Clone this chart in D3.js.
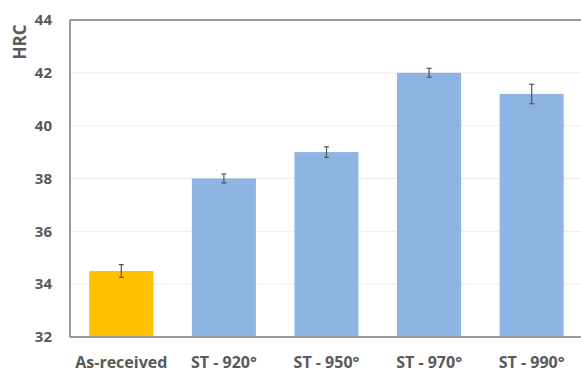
<!DOCTYPE html>
<html>
<head>
<meta charset="utf-8">
<script src="https://cdn.jsdelivr.net/npm/d3@7"></script>
<style>
  html, body { margin: 0; padding: 0; background: #fff; }
  svg { display: block; }
  text { font-family: "Open Sans", sans-serif; font-weight: 700; fill: #595959; }
</style>
</head>
<body>
<script>
// Hardness by heat-treatment condition
const categories = ["As-received", "ST - 920°", "ST - 950°", "ST - 970°", "ST - 990°"];
const hardness = [34.5, 38.0, 39.0, 42.0, 41.2];
const hardnessErr = [0.24, 0.17, 0.2, 0.17, 0.37];
const barColors = ["#FFC000", "#8EB4E3", "#8EB4E3", "#8EB4E3", "#8EB4E3"];
const yTicks = [32, 34, 36, 38, 40, 42, 44];
const yLabel = "HRC";

const W = 581, H = 372;
const margin = { left: 70, right: -2, top: 20, bottom: 35 };

const svg = d3.select("body").append("svg").attr("width", W).attr("height", H);

const x = d3.scaleBand()
  .domain(categories)
  .range([margin.left, W - margin.right])
  .paddingInner(0.376)
  .paddingOuter(0.188);

const y = d3.scaleLinear()
  .domain([32, 44])
  .range([H - margin.bottom, margin.top]);

// light horizontal gridlines
svg.append("g")
  .selectAll("line")
  .data(yTicks.filter(t => t > 32 && t < 44))
  .join("line")
  .attr("x1", margin.left).attr("x2", W)
  .attr("y1", d => y(d)).attr("y2", d => y(d))
  .attr("stroke", "#ececec").attr("stroke-width", 1);

// bars
svg.append("g")
  .selectAll("rect")
  .data(categories)
  .join("rect")
  .attr("x", d => x(d))
  .attr("width", x.bandwidth())
  .attr("y", (d, i) => y(hardness[i]))
  .attr("height", (d, i) => y(32) - y(hardness[i]))
  .attr("fill", (d, i) => barColors[i]);

// error bars
const eb = svg.append("g").attr("stroke", "#555").attr("stroke-width", 1.2);
categories.forEach((c, i) => {
  const cx = x(c) + x.bandwidth() / 2;
  const lo = y(hardness[i] - hardnessErr[i]);
  const hi = y(hardness[i] + hardnessErr[i]);
  eb.append("line").attr("x1", cx).attr("x2", cx).attr("y1", lo).attr("y2", hi);
  eb.append("line").attr("x1", cx - 2.5).attr("x2", cx + 2.5).attr("y1", lo).attr("y2", lo);
  eb.append("line").attr("x1", cx - 2.5).attr("x2", cx + 2.5).attr("y1", hi).attr("y2", hi);
});

// frame: left, top, bottom
const frame = svg.append("g").attr("stroke", "#999").attr("stroke-width", 2).attr("fill", "none");
frame.append("line").attr("x1", margin.left).attr("x2", margin.left).attr("y1", y(44)).attr("y2", y(32));
frame.append("line").attr("x1", margin.left).attr("x2", W).attr("y1", y(44)).attr("y2", y(44));
frame.append("line").attr("x1", margin.left).attr("x2", W).attr("y1", y(32)).attr("y2", y(32));

// y axis labels
const yAxis = d3.axisLeft(y).tickValues(yTicks).tickSize(0).tickPadding(18);
const gy = svg.append("g").attr("transform", `translate(${margin.left},0)`).call(yAxis);
gy.select(".domain").remove();
gy.selectAll("text").attr("font-size", 15).attr("font-family", "Open Sans").attr("font-weight", 700).attr("fill", "#595959");

// x axis labels
const xAxis = d3.axisBottom(x).tickSize(0).tickPadding(19.5);
const gx = svg.append("g").attr("transform", `translate(0,${y(32)})`).call(xAxis);
gx.select(".domain").remove();
gx.selectAll("text").attr("font-size", 16).attr("font-family", "Open Sans").attr("font-weight", 700).attr("fill", "#595959");

// y axis title
svg.append("text")
  .attr("transform", `translate(26,42) rotate(-90)`)
  .attr("text-anchor", "middle")
  .attr("font-size", 17)
  .text(yLabel);
</script>
</body>
</html>
